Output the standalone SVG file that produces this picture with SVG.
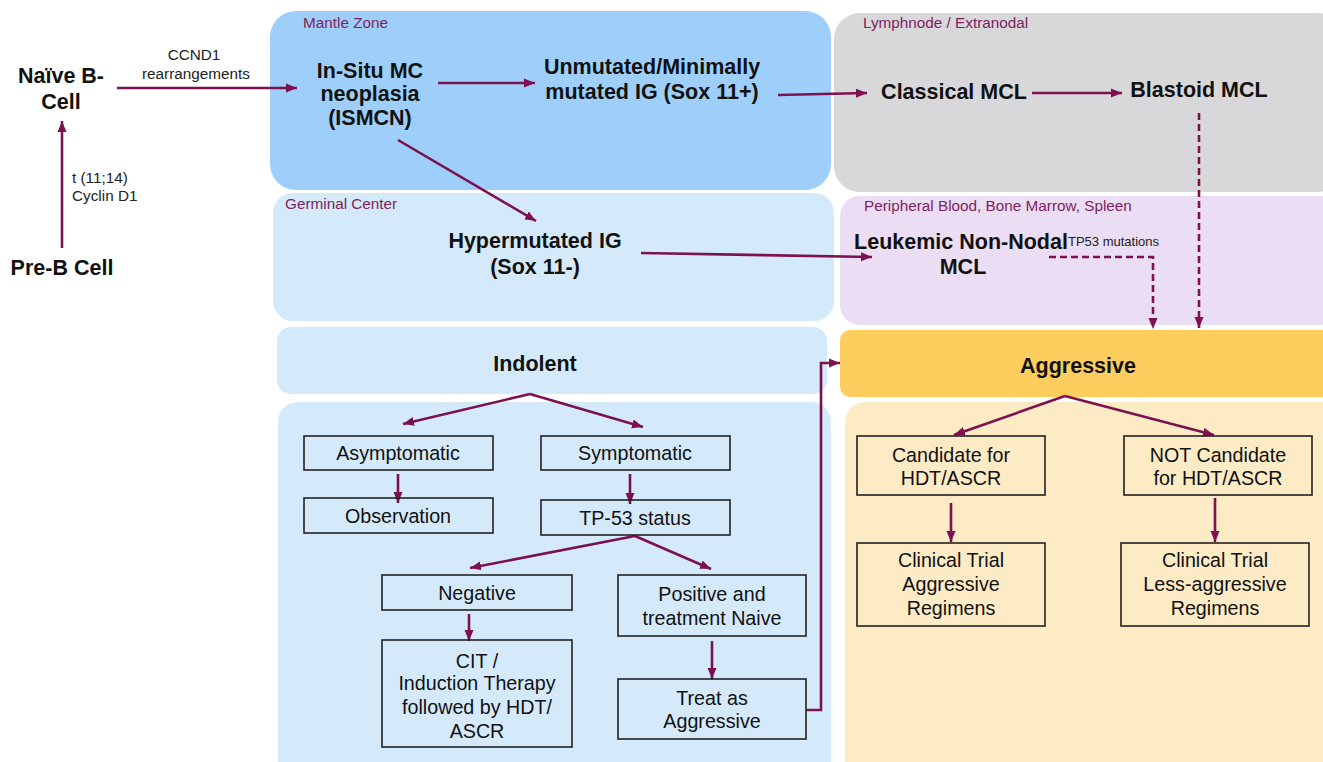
<svg xmlns="http://www.w3.org/2000/svg" width="1323" height="762" viewBox="0 0 1323 762">
<defs>
<marker id="ah" markerWidth="12" markerHeight="10" refX="11" refY="5" orient="auto" markerUnits="userSpaceOnUse">
<path d="M0,0.5 L11,5 L0,9.5 Z" fill="#7D1150"/>
</marker>
<style>
.b{font-family:"Liberation Sans",Arial,sans-serif;font-weight:bold;font-size:21.5px;fill:#111;text-anchor:middle}
.t{font-family:"Liberation Sans",Arial,sans-serif;font-size:19.7px;fill:#111;text-anchor:middle}
.s{font-family:"Liberation Sans",Arial,sans-serif;font-size:15.3px;fill:#222}
.z{font-family:"Liberation Sans",Arial,sans-serif;font-size:15.3px;fill:#7F1F5E}
.box{fill:none;stroke:#222;stroke-width:1.6}
.c{fill:none;stroke:#7D1150;stroke-width:2.6;marker-end:url(#ah)}
.d{fill:none;stroke:#7D1150;stroke-width:2.6;stroke-dasharray:7 4;marker-end:url(#ah)}
</style>
</defs>
<rect width="1323" height="762" fill="#fff"/>
<g id="regions">
<rect x="270" y="11" width="561" height="179" rx="26" fill="#9DCFFA"/>
<rect x="834" y="13" width="510" height="179" rx="26" fill="#D8D8DA"/>
<rect x="273" y="193" width="561" height="128" rx="20" fill="#D4EAFB"/>
<rect x="840" y="196" width="500" height="129" rx="20" fill="#EBDDF4"/>
<rect x="277" y="327" width="550" height="67" rx="14" fill="#D4EAFB"/>
<rect x="840" y="330" width="500" height="67" rx="10" fill="#FDCD5D"/>
<rect x="278" y="402" width="553" height="380" rx="20" fill="#D4EAFB"/>
<rect x="845" y="402" width="500" height="380" rx="20" fill="#FDEBC6"/>
<text class="z" x="303" y="28">Mantle Zone</text>
<text class="z" x="863" y="28">Lymphnode / Extranodal</text>
<text class="z" x="285" y="209">Germinal Center</text>
<text class="z" x="864" y="211">Peripheral Blood, Bone Marrow, Spleen</text>
</g>
<g id="connectors">
<line class="c" x1="62" y1="248" x2="62" y2="121"/>
<line class="c" x1="117" y1="88" x2="297" y2="88"/>
<line class="c" x1="438" y1="83" x2="535" y2="83"/>
<line class="c" x1="778" y1="95" x2="867" y2="93"/>
<line class="c" x1="1032" y1="93" x2="1122" y2="93"/>
<line class="c" x1="398" y1="140" x2="536" y2="221"/>
<line class="c" x1="641" y1="253" x2="872" y2="257"/>
<line class="d" x1="1199" y1="113" x2="1199" y2="328"/>
<polyline class="d" points="1049,257 1153,257 1153,329"/>
<line class="c" x1="530" y1="394" x2="403" y2="424"/>
<line class="c" x1="530" y1="394" x2="643" y2="427"/>
<line class="c" x1="398" y1="474" x2="398" y2="503"/>
<line class="c" x1="630" y1="474" x2="630" y2="504"/>
<line class="c" x1="635" y1="536" x2="470" y2="568"/>
<line class="c" x1="635" y1="536" x2="711" y2="569"/>
<line class="c" x1="469" y1="614" x2="469" y2="641"/>
<line class="c" x1="712" y1="641" x2="712" y2="679"/>
<polyline class="c" points="806,710 821,710 821,363 840,363"/>
<line class="c" x1="1065" y1="396" x2="954" y2="435"/>
<line class="c" x1="1065" y1="396" x2="1214" y2="435"/>
<line class="c" x1="951" y1="503" x2="951" y2="542"/>
<line class="c" x1="1215" y1="498" x2="1215" y2="542"/>
</g>
<g id="naive">
<text class="b" x="61" y="83">Naïve B-</text>
<text class="b" x="61" y="109">Cell</text>
</g>
<g id="preb"><text class="b" x="62" y="275">Pre-B Cell</text></g>
<g id="labels">
<text class="s" x="194" y="60" text-anchor="middle">CCND1</text>
<text class="s" x="196" y="79" text-anchor="middle">rearrangements</text>
<text class="s" x="72" y="183">t (11;14)</text>
<text class="s" x="72" y="201">Cyclin D1</text>
</g>
<g id="ismcn">
<text class="b" x="370" y="78">In-Situ MC</text>
<text class="b" x="370" y="101">neoplasia</text>
<text class="b" x="370" y="125">(ISMCN)</text>
</g>
<g id="unmutated">
<text class="b" x="652" y="74">Unmutated/Minimally</text>
<text class="b" x="652" y="99">mutated IG (Sox 11+)</text>
</g>
<g id="classical"><text class="b" x="954" y="99">Classical MCL</text></g>
<g id="blastoid"><text class="b" x="1199" y="97">Blastoid MCL</text></g>
<g id="hypermutated">
<text class="b" x="535" y="248">Hypermutated IG</text>
<text class="b" x="535" y="274">(Sox 11-)</text>
</g>
<g id="leukemic">
<text class="b" x="961" y="249">Leukemic Non-Nodal</text>
<text class="b" x="963" y="274">MCL</text>
<text x="1068" y="246" style="font-family:'Liberation Sans',Arial,sans-serif;font-size:13px;fill:#222">TP53 mutations</text>
</g>
<g id="indolent"><text class="b" x="535" y="371">Indolent</text></g>
<g id="aggressive"><text class="b" x="1078" y="373">Aggressive</text></g>
<g id="asymptomatic"><rect class="box" x="304" y="436" width="189" height="34"/><text class="t" x="398" y="460">Asymptomatic</text></g>
<g id="symptomatic"><rect class="box" x="541" y="436" width="189" height="34"/><text class="t" x="635" y="460">Symptomatic</text></g>
<g id="observation"><rect class="box" x="304" y="498" width="189" height="35"/><text class="t" x="398" y="523">Observation</text></g>
<g id="tp53"><rect class="box" x="541" y="500" width="189" height="35"/><text class="t" x="635" y="525">TP-53 status</text></g>
<g id="negative"><rect class="box" x="382" y="575" width="190" height="35"/><text class="t" x="477" y="600">Negative</text></g>
<g id="positive"><rect class="box" x="618" y="575" width="188" height="61"/><text class="t" x="712" y="601">Positive and</text><text class="t" x="712" y="625">treatment Naive</text></g>
<g id="cit"><rect class="box" x="382" y="640" width="190" height="107"/>
<text class="t" x="477" y="668">CIT /</text><text class="t" x="477" y="690">Induction Therapy</text><text class="t" x="477" y="714">followed by HDT/</text><text class="t" x="477" y="738">ASCR</text></g>
<g id="treat"><rect class="box" x="618" y="679" width="188" height="60"/><text class="t" x="712" y="705">Treat as</text><text class="t" x="712" y="728">Aggressive</text></g>
<g id="candidate"><rect class="box" x="857" y="436" width="188" height="59"/><text class="t" x="951" y="462">Candidate for</text><text class="t" x="951" y="485">HDT/ASCR</text></g>
<g id="notcandidate"><rect class="box" x="1124" y="436" width="188" height="59"/><text class="t" x="1218" y="462">NOT Candidate</text><text class="t" x="1218" y="485">for HDT/ASCR</text></g>
<g id="trial1"><rect class="box" x="857" y="543" width="188" height="83"/><text class="t" x="951" y="567">Clinical Trial</text><text class="t" x="951" y="591">Aggressive</text><text class="t" x="951" y="615">Regimens</text></g>
<g id="trial2"><rect class="box" x="1121" y="543" width="188" height="83"/><text class="t" x="1215" y="567">Clinical Trial</text><text class="t" x="1215" y="591">Less-aggressive</text><text class="t" x="1215" y="615">Regimens</text></g>
</svg>
